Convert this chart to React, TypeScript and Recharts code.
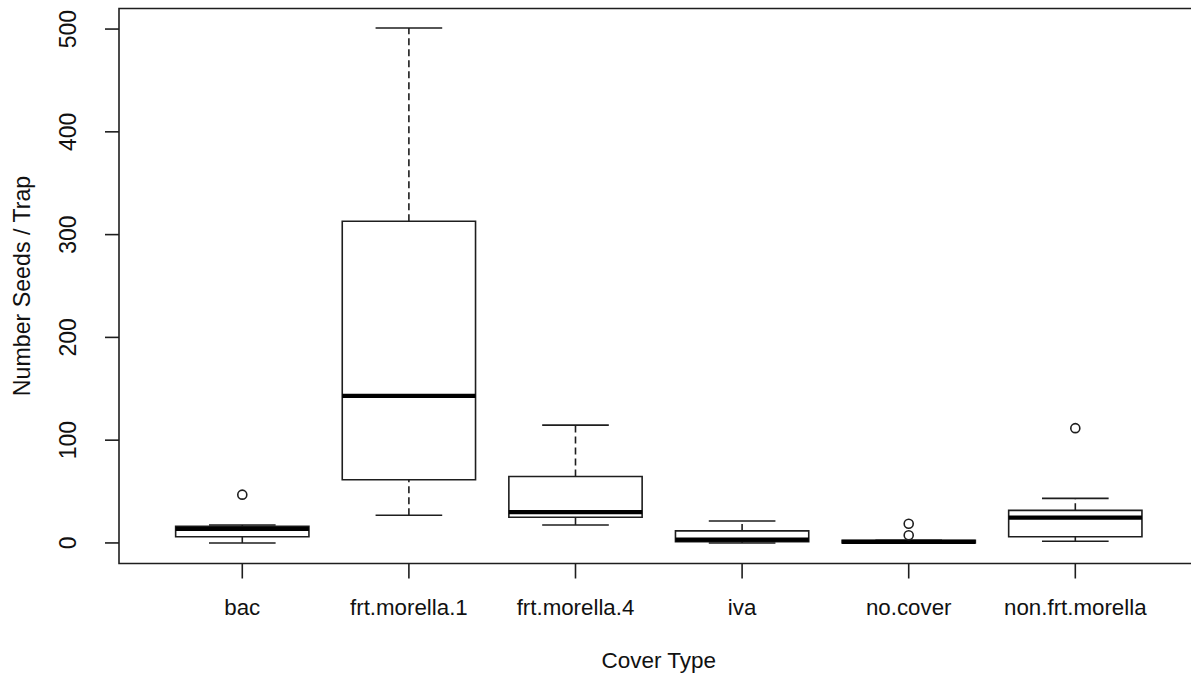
import {
  ComposedChart,
  Label,
  ReferenceArea,
  ReferenceLine,
  Scatter,
  XAxis,
  YAxis,
} from "recharts"

const categories = [
  "bac",
  "frt.morella.1",
  "frt.morella.4",
  "iva",
  "no.cover",
  "non.frt.morella",
]
const whiskerLow = [0, 27, 17.5, 0, 0, 1.6]
const boxLow = [6.1, 61.5, 25, 1.3, 0, 6.1]
const medians = [13.6, 143, 30, 3.2, 1, 24.6]
const boxHigh = [16.2, 313, 64.7, 11.7, 2.5, 31.7]
const whiskerHigh = [17.5, 501, 114.6, 21.4, 2.5, 43.4]
const outlierGroup = [1, 5, 5, 6]
const outlierValues = [47, 7.5, 18.7, 111.7]
const yTicks = [0, 100, 200, 300, 400, 500]

const xDomain = [0.26, 6.74]
const yDomain = [-20, 520]
const ink = "#1e1e1e"
const font = "'Liberation Sans', Arial, sans-serif"

const outliers = outlierGroup.map((g, i) => ({ x: g, y: outlierValues[i] }))

const XTick = ({ x, y, payload }: any) => (
  <text x={x} y={y} textAnchor="middle" fontSize={22.3} fontFamily={font} fill="#111">
    {categories[payload.value - 1]}
  </text>
)

// rotated tick labels, like R's las=0 on the y axis
const YTick = ({ x, y, payload }: any) => (
  <text
    x={x}
    y={y}
    transform={`rotate(-90 ${x} ${y})`}
    textAnchor="middle"
    fontSize={23}
    fontFamily={font}
    fill="#111"
  >
    {payload.value}
  </text>
)

export default function App() {
  return (
    <div
      style={{
        position: "absolute",
        left: 0,
        top: 0,
        width: 1191,
        height: 677,
        overflow: "hidden",
        background: "#fff",
      }}
    >
      <ComposedChart
        width={1220}
        height={677}
        margin={{ top: 8.5, right: 21.4, left: 0, bottom: 0 }}
      >
        <XAxis
          type="number"
          dataKey="x"
          domain={xDomain}
          allowDataOverflow
          ticks={[1, 2, 3, 4, 5, 6]}
          interval={0}
          height={113.5}
          tickSize={15}
          tickMargin={36.5}
          tickLine={{ stroke: ink, strokeWidth: 1.6 }}
          axisLine={false}
          tick={<XTick />}
        >
          <Label
            value="Cover Type"
            position="insideBottom"
            offset={9}
            fontSize={22.5}
            fontFamily={font}
            fill="#111"
          />
        </XAxis>
        <YAxis
          type="number"
          dataKey="y"
          domain={yDomain}
          allowDataOverflow
          ticks={yTicks}
          interval={0}
          width={119}
          tickSize={14}
          tickMargin={29}
          tickLine={{ stroke: ink, strokeWidth: 1.6 }}
          axisLine={false}
          tick={<YTick />}
        >
          <Label
            content={(p: any) => {
              const vb = p.viewBox
              const cy = vb.y + vb.height / 2
              return (
                <text
                  x={30}
                  y={cy}
                  transform={`rotate(-90 30 ${cy})`}
                  textAnchor="middle"
                  fontSize={23.2}
                  fontFamily={font}
                  fill="#111"
                >
                  Number Seeds / Trap
                </text>
              )
            }}
          />
        </YAxis>

        {/* plot frame */}
        <ReferenceArea
          x1={xDomain[0]}
          x2={xDomain[1]}
          y1={yDomain[0]}
          y2={yDomain[1]}
          fill="none"
          stroke={ink}
          strokeWidth={1.6}
        />

        {categories.map((_, i) => {
          const c = i + 1
          return [
            <ReferenceLine
              key={`wu${i}`}
              segment={[{ x: c, y: boxHigh[i] }, { x: c, y: whiskerHigh[i] }]}
              stroke={ink}
              strokeWidth={1.6}
              strokeDasharray="7 4"
            />,
            <ReferenceLine
              key={`wl${i}`}
              segment={[{ x: c, y: whiskerLow[i] }, { x: c, y: boxLow[i] }]}
              stroke={ink}
              strokeWidth={1.6}
              strokeDasharray="7 4"
            />,
            <ReferenceLine
              key={`su${i}`}
              segment={[{ x: c - 0.2, y: whiskerHigh[i] }, { x: c + 0.2, y: whiskerHigh[i] }]}
              stroke={ink}
              strokeWidth={1.6}
            />,
            <ReferenceLine
              key={`sl${i}`}
              segment={[{ x: c - 0.2, y: whiskerLow[i] }, { x: c + 0.2, y: whiskerLow[i] }]}
              stroke={ink}
              strokeWidth={1.6}
            />,
            <ReferenceArea
              key={`b${i}`}
              x1={c - 0.4}
              x2={c + 0.4}
              y1={boxLow[i]}
              y2={boxHigh[i]}
              fill="#fff"
              fillOpacity={1}
              stroke={ink}
              strokeWidth={1.6}
            />,
            <ReferenceLine
              key={`m${i}`}
              segment={[{ x: c - 0.4, y: medians[i] }, { x: c + 0.4, y: medians[i] }]}
              stroke="#000"
              strokeWidth={4.2}
            />,
          ]
        })}

        <Scatter
          data={outliers}
          dataKey="y"
          fill="#fff"
          stroke={ink}
          strokeWidth={1.6}
          shape="circle"
          isAnimationActive={false}
        />
      </ComposedChart>
    </div>
  )
}
